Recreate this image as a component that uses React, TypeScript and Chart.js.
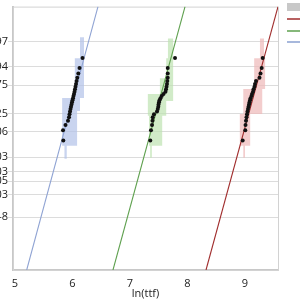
import React, { useEffect, useRef } from "react";
import { Chart, registerables } from "chart.js";

Chart.register(...registerables);

// ---- data (x = ln(ttf), y = standard normal quantile of probability) ----
const xTicks = [5, 6, 7, 8, 9];
const yTickValues = [2.748, 1.555, 0.674, -0.674, -1.555, -2.748, -3.432, -3.891, -4.526, -5.612];
const yTickLabels = ["0.997", "0.94", "0.75", "0.25", "0.06", "0.003", "0.0003", "0.00005", "0.000003", "1e-8"];

const plotPositions = [1.96, 1.48, 1.22, 1.02, 0.86, 0.72, 0.59, 0.47, 0.36, 0.25, 0.15, 0.05,
  -0.05, -0.15, -0.25, -0.36, -0.47, -0.59, -0.72, -0.86, -1.02, -1.22, -1.48, -1.96];

const blueX = [6.174, 6.122, 6.101, 6.083, 6.07, 6.061, 6.052, 6.043, 6.035, 6.026, 6.017, 6.009,
  6.0, 5.991, 5.983, 5.974, 5.965, 5.957, 5.948, 5.939, 5.922, 5.878, 5.835, 5.84];
const greenX = [7.783, 7.656, 7.656, 7.656, 7.649, 7.643, 7.635, 7.626, 7.617, 7.583, 7.551, 7.53,
  7.513, 7.504, 7.496, 7.492, 7.483, 7.47, 7.417, 7.395, 7.391, 7.383, 7.365, 7.353];
const redX = [9.308, 9.29, 9.27, 9.252, 9.191, 9.174, 9.165, 9.148, 9.139, 9.122, 9.113, 9.096,
  9.087, 9.078, 9.07, 9.061, 9.052, 9.043, 9.035, 9.026, 9.017, 9.009, 9.005, 8.96];

const fitZ = [-8.115, 4.4];
const blueFitX = [5.203, 6.443];
const greenFitX = [6.704, 7.957];
const redFitX = [8.322, 9.574];

// confidence bands: step boundaries (z) and low/high x for each step
const blueBandZ = [2.94, 1.95, 0.06, -0.56, -2.21, -2.83];
const blueBandLo = [6.13, 6.04, 5.82, 5.82, 5.86];
const blueBandHi = [6.2, 6.2, 6.13, 6.08, 5.9];

const greenBandZ = [2.89, 1.95, 1.0, 0.25, -0.09, -0.79, -2.21, -2.78];
const greenBandLo = [7.66, 7.63, 7.52, 7.31, 7.31, 7.33, 7.35];
const greenBandHi = [7.75, 7.75, 7.75, 7.75, 7.63, 7.56, 7.38];

const redBandZ = [2.89, 1.95, 0.48, -0.7, -2.21, -2.78];
const redBandLo = [9.26, 9.16, 8.97, 8.91, 8.97];
const redBandHi = [9.33, 9.35, 9.3, 9.09, 9.0];

const legendLabels = ["95% confidence band", "Low stress", "Mid stress", "High stress"];

const FONT = { family: "'Open Sans', sans-serif", size: 11 };
const TEXT = "#222";

function points(xs: number[], ys: number[]) {
  return xs.map((x, i) => ({ x, y: ys[i] }));
}

function bandPolygon(z: number[], lo: number[], hi: number[]) {
  const pts: { x: number; y: number }[] = [];
  for (let i = 0; i < hi.length; i++) {
    pts.push({ x: hi[i], y: z[i] });
    pts.push({ x: hi[i], y: z[i + 1] });
  }
  for (let i = lo.length - 1; i >= 0; i--) {
    pts.push({ x: lo[i], y: z[i + 1] });
    pts.push({ x: lo[i], y: z[i] });
  }
  return pts;
}

const framePlugin = {
  id: "frame",
  beforeDatasetsDraw(chart: any) {
    const { ctx, chartArea: a } = chart;
    ctx.save();
    ctx.strokeStyle = "#d2d2d2";
    ctx.lineWidth = 1;
    ctx.strokeRect(a.left + 0.5, a.top + 0.5, a.right - a.left, a.bottom - a.top);
    ctx.restore();
  },
};

const legendPlugin = {
  id: "sideLegend",
  afterDraw(chart: any) {
    const { ctx, chartArea: a } = chart;
    const x0 = a.right + 9;
    const colors = ["#c8c8c8", "#a02c2c", "#5ea04e", "#8aa0d0"];
    const ys = [7, 19, 31, 42];
    ctx.save();
    ctx.font = "11px 'Open Sans', sans-serif";
    ctx.fillStyle = TEXT;
    ctx.textBaseline = "middle";
    legendLabels.forEach((label, i) => {
      if (i === 0) {
        ctx.fillStyle = colors[0];
        ctx.fillRect(x0, ys[i] - 4, 14, 8);
      } else {
        ctx.strokeStyle = colors[i];
        ctx.lineWidth = 1.5;
        ctx.beginPath();
        ctx.moveTo(x0, ys[i]);
        ctx.lineTo(x0 + 14, ys[i]);
        ctx.stroke();
      }
      ctx.fillStyle = TEXT;
      ctx.fillText(label, x0 + 18, ys[i]);
    });
    ctx.restore();
  },
};

export default function App() {
  const ref = useRef<HTMLCanvasElement | null>(null);

  useEffect(() => {
    if (!ref.current) return;
    const groups = [
      { x: blueX, fit: blueFitX, z: blueBandZ, lo: blueBandLo, hi: blueBandHi, line: "#8fa3d3", band: "rgba(178,194,232,0.7)" },
      { x: greenX, fit: greenFitX, z: greenBandZ, lo: greenBandLo, hi: greenBandHi, line: "#5ea04e", band: "rgba(190,226,176,0.7)" },
      { x: redX, fit: redFitX, z: redBandZ, lo: redBandLo, hi: redBandHi, line: "#a02c2c", band: "rgba(238,184,184,0.7)" },
    ];
    const datasets: any[] = [];
    groups.forEach((g) => {
      datasets.push({
        data: points(g.x, plotPositions),
        showLine: false,
        pointRadius: 2,
        pointBackgroundColor: "#111",
        pointBorderColor: "#111",
        pointBorderWidth: 0,
        order: 0,
      });
      datasets.push({
        data: points(g.fit, fitZ),
        borderColor: g.line,
        borderWidth: 1.1,
        pointRadius: 0,
        fill: false,
        order: 1,
      });
      datasets.push({
        data: bandPolygon(g.z, g.lo, g.hi),
        borderWidth: 0,
        borderColor: "rgba(0,0,0,0)",
        backgroundColor: g.band,
        pointRadius: 0,
        fill: "shape",
        tension: 0,
        order: 2,
      });
    });

    const chart = new Chart(ref.current, {
      type: "line",
      data: { datasets },
      options: {
        animation: false,
        responsive: false,
        devicePixelRatio: 1,
        layout: { padding: { left: 0, right: 22, top: 5, bottom: 0 } },
        plugins: { legend: { display: false }, tooltip: { enabled: false } },
        scales: {
          x: {
            type: "linear",
            min: 4.965,
            max: 9.574,
            afterBuildTicks: (s: any) => {
              s.ticks = xTicks.map((v) => ({ value: v }));
            },
            afterFit: (s: any) => {
              s.height = 30;
            },
            grid: { display: false, drawTicks: false },
            border: { display: true, color: "#c8c8c8", width: 2 },
            ticks: { padding: 7, font: FONT, color: TEXT, maxRotation: 0 },
            title: { display: true, text: "ln(ttf)", padding: { top: 0, bottom: 0 }, font: FONT, color: TEXT },
          },
          y: {
            type: "linear",
            min: -8.115,
            max: 4.4,
            afterBuildTicks: (s: any) => {
              s.ticks = yTickValues.map((v) => ({ value: v }));
            },
            afterFit: (s: any) => {
              s.width = 13;
            },
            grid: { color: "#dcdcdc", lineWidth: 1, tickLength: 5 },
            border: { display: true, color: "#c8c8c8", width: 2 },
            ticks: {
              autoSkip: false,
              padding: 0,
              font: FONT,
              color: TEXT,
              callback: (_v: any, i: number) => yTickLabels[i],
            },
          },
        },
      },
      plugins: [framePlugin, legendPlugin],
    } as any);
    return () => chart.destroy();
  }, []);

  return (
    <div style={{ position: "fixed", left: 0, top: 0, width: 300, height: 300, background: "#fff", overflow: "hidden" }}>
      <canvas ref={ref} width={300} height={300} style={{ display: "block", width: 300, height: 300 }} />
    </div>
  );
}
